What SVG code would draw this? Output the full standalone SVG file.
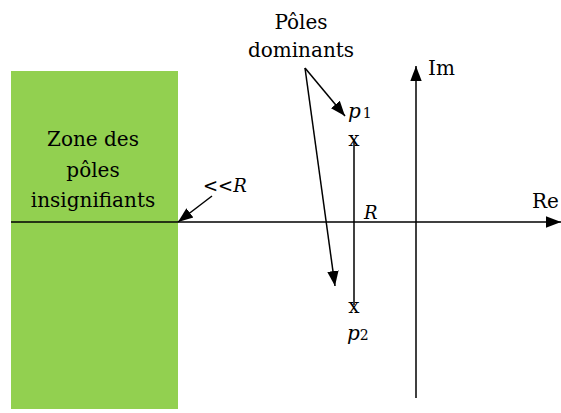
<svg xmlns="http://www.w3.org/2000/svg" width="561" height="413" viewBox="0 0 561 413">
<style>
.i{font-style:italic}
.ln{stroke:#000;stroke-width:1.5;fill:none}
</style>
<defs>
<marker id="ahb" viewBox="0 0 10 10" refX="10" refY="5" markerWidth="15" markerHeight="15" markerUnits="userSpaceOnUse" orient="auto"><path d="M0,1.2L10,5L0,8.8z" fill="#000"/></marker>
</defs>
<g font-family="DejaVu Serif, serif" font-size="20" fill="#000">
<g id="zone">
<rect x="11" y="71" width="167" height="338" fill="#92d050"/>
<text x="93" y="146" text-anchor="middle">Zone des</text>
<text x="93" y="177" text-anchor="middle">pôles</text>
<text x="93" y="207" text-anchor="middle">insignifiants</text>
</g>
<g id="connectors">
<line class="ln" x1="11" y1="222" x2="561" y2="222" marker-end="url(#ahb)"/>
<line class="ln" x1="416" y1="398" x2="416" y2="66" marker-end="url(#ahb)"/>
<line class="ln" x1="354" y1="140" x2="354" y2="305"/>
<line class="ln" x1="212" y1="196" x2="178" y2="222" marker-end="url(#ahb)"/>
<line class="ln" x1="305" y1="68" x2="345" y2="116" marker-end="url(#ahb)"/>
<line class="ln" x1="305" y1="68" x2="335" y2="286" marker-end="url(#ahb)"/>
</g>
<g id="labels">
<text x="428" y="75">Im</text>
<text x="532" y="208">Re</text>
<text x="364" y="219" class="i" font-size="18">R</text>
<text x="203" y="192" font-size="18">&lt;&lt;<tspan class="i">R</tspan></text>
<text x="301" y="29" text-anchor="middle">Pôles</text>
<text x="301" y="57" text-anchor="middle">dominants</text>
</g>
<g id="p1">
<text x="354" y="146" text-anchor="middle">x</text>
<text x="348" y="118" class="i">p<tspan font-style="normal" font-size="14" dx="2">1</tspan></text>
</g>
<g id="p2">
<text x="354" y="313" text-anchor="middle">x</text>
<text x="347" y="340" class="i">p<tspan font-style="normal" font-size="14">2</tspan></text>
</g>
</g>
</svg>
